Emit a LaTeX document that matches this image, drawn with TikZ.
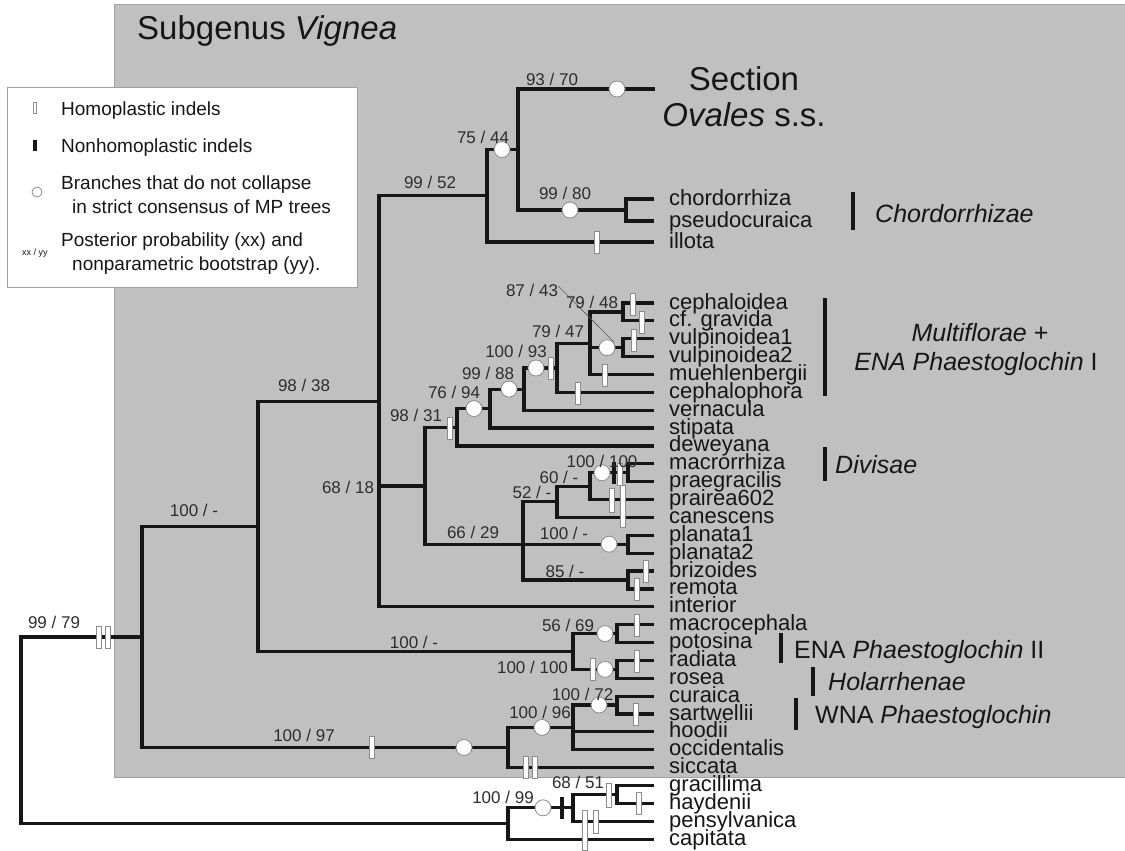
\documentclass[tikz,border=0pt]{standalone}
\usepackage{fontspec}
\setmainfont{Liberation Sans}
\definecolor{bggray}{RGB}{192,192,192}
\definecolor{bgedge}{RGB}{160,160,160}
\definecolor{ink}{RGB}{22,22,22}
\definecolor{numink}{RGB}{45,45,45}
\definecolor{markedge}{RGB}{140,140,140}
\tikzset{
  branch/.style={line width=3.2pt, draw=ink},
  leaf/.style={anchor=base west, inner sep=0pt, font=\fontsize{22}{22}\selectfont, text=ink},
  supp/.style={anchor=base, inner sep=0pt, font=\fontsize{17}{17}\selectfont, text=numink},
  homo/.style={rectangle, draw=markedge, fill=white, line width=0.8pt, minimum width=5pt, minimum height=22pt, inner sep=0pt},
  nonhomo/.style={rectangle, fill=ink, minimum width=4pt, minimum height=22pt, inner sep=0pt},
  mpc/.style={circle, draw=markedge, fill=white, line width=0.8pt, minimum size=16pt, inner sep=0pt},
  cladebar/.style={line width=4pt, draw=ink},
  cladelab/.style={anchor=base west, inner sep=0pt, font=\fontsize{25}{25}\selectfont, text=ink},
  legtext/.style={anchor=base west, inner sep=0pt, font=\fontsize{19}{19}\selectfont, text=ink},
  bigtext/.style={inner sep=0pt, font=\fontsize{33}{33}\selectfont, text=ink},
}
\begin{document}
\begin{tikzpicture}[x=1pt,y=-1pt]
\useasboundingbox (0,0) rectangle (1125,851);
% background panel
\fill[bggray] (114,5) rectangle (1125,777);
\draw[bgedge, line width=1pt] (114,5) rectangle (1125,777);

% internal nodes
\coordinate (R) at (21,730);
\coordinate (V) at (142,637);
\coordinate (A) at (258,526.4);
\coordinate (C) at (379,401.3);
\coordinate (D) at (487,195.75);
\coordinate (E) at (518,149.5);
\coordinate (Ch) at (626,210);
\coordinate (F) at (425,486);
\coordinate (G1) at (457,427.3);
\coordinate (H) at (490,408.6);
\coordinate (I) at (524,389.1);
\coordinate (J) at (557,368);
\coordinate (K) at (590,343.5);
\coordinate (L) at (623,312);
\coordinate (M) at (623,347.7);
\coordinate (G2) at (523,544.2);
\coordinate (P) at (557,501.8);
\coordinate (Q) at (590,486.2);
\coordinate (S) at (628,472.8);
\coordinate (T) at (628,544.2);
\coordinate (U) at (628,580);
\coordinate (W) at (573,651.5);
\coordinate (X) at (617,633.6);
\coordinate (Y) at (617,669.4);
\coordinate (B) at (508,747.5);
\coordinate (Z) at (573,727.4);
\coordinate (Z2) at (617,705);
\coordinate (O) at (508,823.5);
\coordinate (O2) at (573,807.8);
\coordinate (O3) at (617,794.5);

% tips
\coordinate (tOv) at (655,89);
\coordinate (tc1) at (654,199);
\coordinate (tc2) at (654,221);
\coordinate (till) at (654,242);
\node[leaf] (lc1) at (669,205) {chordorrhiza};
\node[leaf] (lc2) at (669,227) {pseudocuraica};
\node[leaf] (lill) at (669,248) {illota};
\foreach \i/\nm in {0/cephaloidea,1/cf. gravida,2/vulpinoidea1,3/vulpinoidea2,4/muehlenbergii,5/cephalophora,6/vernacula,7/stipata,8/deweyana,9/macrorrhiza,10/praegracilis,11/prairea602,12/canescens,13/planata1,14/planata2,15/brizoides,16/remota,17/interior,18/macrocephala,19/potosina,20/radiata,21/rosea,22/curaica,23/sartwellii,24/hoodii,25/occidentalis,26/siccata,27/gracillima,28/haydenii,29/pensylvanica,30/capitata}{
  \coordinate (t\i) at (654,{303+17.87*\i});
  \node[leaf] (l\i) at (669,{309+17.87*\i}) {\nm};
}

% branches
\draw[branch] (R) |- (V);  \draw[branch] (R) |- (O);
\draw[branch] (V) |- (A);  \draw[branch] (V) |- (B);
\draw[branch] (A) |- (C);  \draw[branch] (A) |- (W);
\draw[branch] (C) |- (D);  \draw[branch] (C) |- (F);  \draw[branch] (C) |- (t17);
\draw[branch] (D) |- (E);  \draw[branch] (D) |- (till);
\draw[branch] (E) |- (tOv); \draw[branch] (E) |- (Ch);
\draw[branch] (Ch) |- (tc1); \draw[branch] (Ch) |- (tc2);
\draw[branch] (F) |- (G1); \draw[branch] (F) |- (G2);
\draw[branch] (G1) |- (H); \draw[branch] (G1) |- (t8);
\draw[branch] (H) |- (I);  \draw[branch] (H) |- (t7);
\draw[branch] (I) |- (J);  \draw[branch] (I) |- (t6);
\draw[branch] (J) |- (K);  \draw[branch] (J) |- (t5);
\draw[branch] (K) |- (L);  \draw[branch] (K) |- (M);  \draw[branch] (K) |- (t4);
\draw[branch] (L) |- (t0); \draw[branch] (L) |- (t1);
\draw[branch] (M) |- (t2); \draw[branch] (M) |- (t3);
\draw[branch] (G2) |- (P); \draw[branch] (G2) |- (T); \draw[branch] (G2) |- (U);
\draw[branch] (P) |- (Q);  \draw[branch] (P) |- (t12);
\draw[branch] (Q) |- (S);  \draw[branch] (Q) |- (t11);
\draw[branch] (S) |- (t9); \draw[branch] (S) |- (t10);
\draw[branch] (T) |- (t13); \draw[branch] (T) |- (t14);
\draw[branch] (U) |- (t15); \draw[branch] (U) |- (t16);
\draw[branch] (W) |- (X);  \draw[branch] (W) |- (Y);
\draw[branch] (X) |- (t18); \draw[branch] (X) |- (t19);
\draw[branch] (Y) |- (t20); \draw[branch] (Y) |- (t21);
\draw[branch] (B) |- (Z);  \draw[branch] (B) |- (t26);
\draw[branch] (Z) |- (Z2); \draw[branch] (Z) |- (t24); \draw[branch] (Z) |- (t25);
\draw[branch] (Z2) |- (t22); \draw[branch] (Z2) |- (t23);
\draw[branch] (O) |- (O2); \draw[branch] (O) |- (t30);
\draw[branch] (O2) |- (O3); \draw[branch] (O2) |- (t29);
\draw[branch] (O3) |- (t27); \draw[branch] (O3) |- (t28);

% leader line for 87/43
\node[supp] (s8743) at (532,296) {87 / 43};
\coordinate (lead) at (614,342);
\draw[draw=gray!70!black, line width=0.6pt] (s8743.east) ++(0,-4) -- (lead);

% homoplastic indels
\node[homo] (h1) at (99,637) {};
\node[homo] (h2) at (108,637) {};
\node[homo] (h3) at (372,747.5) {};
\node[homo] (h4) at (597,242) {};
\node[homo] (h5) at (633,304) {};
\node[homo] (h6) at (642,322) {};
\node[homo] (h7) at (634,340) {};
\node[homo] (h8) at (605,375) {};
\node[homo] (h9) at (578,393) {};
\node[homo] (h10) at (551,368) {};
\node[homo] (h11) at (450,428) {};
\node[nonhomo] (n1) at (614,473) {};
\node[homo] (h12) at (620,474) {};
\node[homo, minimum height=24pt] (h13) at (612,500) {};
\node[homo, minimum height=42pt] (h14) at (623,506) {};
\node[homo] (h15) at (646,571) {};
\node[homo] (h16) at (637,589) {};
\node[homo] (h17) at (637,625) {};
\node[homo] (h18) at (637,661) {};
\node[homo] (h19) at (593,669) {};
\node[homo] (h20) at (636,714) {};
\node[homo] (h21) at (526,767.6) {};
\node[homo] (h22) at (535,767.6) {};
\node[homo, minimum height=24pt] (h23) at (609,795) {};
\node[homo] (h24) at (639,803.5) {};
\node[homo, minimum height=40pt] (h25) at (585,830) {};
\node[homo, minimum height=23pt] (h26) at (596,821.5) {};
\node[nonhomo] (n2) at (562,807.8) {};

% MP circles
\node[mpc] (c1) at (617,89) {};
\node[mpc] (c2) at (502,149.5) {};
\node[mpc] (c3) at (570,210) {};
\node[mpc] (c4) at (607,347.7) {};
\node[mpc] (c5) at (536,368) {};
\node[mpc] (c6) at (509,389.1) {};
\node[mpc] (c7) at (474,408.6) {};
\node[mpc] (c8) at (602,472.8) {};
\node[mpc] (c9) at (609,544.2) {};
\node[mpc] (c10) at (605,633.6) {};
\node[mpc] (c11) at (605,669.4) {};
\node[mpc] (c12) at (599,705) {};
\node[mpc] (c13) at (542,727.4) {};
\node[mpc] (c14) at (464,747.5) {};
\node[mpc] (c15) at (543,807.8) {};

% support values
\node[supp] (s1) at (552,85) {93 / 70};
\node[supp] (s2) at (483,143) {75 / 44};
\node[supp] (s3) at (430,188) {99 / 52};
\node[supp] (s4) at (565,199) {99 / 80};
\node[supp] (s5) at (592,308) {79 / 48};
\node[supp] (s6) at (558,337) {79 / 47};
\node[supp] (s7) at (516,357) {100 / 93};
\node[supp] (s8) at (488,379) {99 / 88};
\node[supp] (s9) at (454,398) {76 / 94};
\node[supp] (s10) at (416,421) {98 / 31};
\node[supp] (s11) at (602,467) {100 / 100};
\node[supp] (s12) at (559,483) {60 / -};
\node[supp] (s13) at (532,498) {52 / -};
\node[supp] (s14) at (473,538) {66 / 29};
\node[supp] (s15) at (564,539) {100 / -};
\node[supp] (s16) at (565,577) {85 / -};
\node[supp] (s17) at (568,631) {56 / 69};
\node[supp] (s18) at (532.5,673) {100 / 100};
\node[supp] (s19) at (582.5,700) {100 / 72};
\node[supp] (s20) at (540,718) {100 / 96};
\node[supp] (s21) at (578,788) {68 / 51};
\node[supp] (s22) at (503,803) {100 / 99};
\node[supp] (s23) at (54,628) {99 / 79};
\node[supp] (s24) at (194,516) {100 / -};
\node[supp] (s25) at (304,391) {98 / 38};
\node[supp] (s26) at (348,493) {68 / 18};
\node[supp] (s27) at (414,648) {100 / -};
\node[supp] (s28) at (304,741) {100 / 97};

% titles
\node[bigtext, anchor=base west] (title) at (137,40) {Subgenus \textit{Vignea}};
\node[bigtext, anchor=base] (sec1) at (744,91) {Section};
\node[bigtext, anchor=base] (sec2) at (744,126) {\textit{Ovales} s.s.};

% clade bars and labels
\draw[cladebar] (853,192) -- (853,230);
\node[cladelab] (k1) at (875,222) {\textit{Chordorrhizae}};
\draw[cladebar] (825,298) -- (825,396);
\node[cladelab, anchor=base] (k2) at (980,341) {\textit{Multiflorae} +};
\node[cladelab, anchor=base] (k3) at (976,370) {\textit{ENA Phaestoglochin} I};
\draw[cladebar] (825,447) -- (825,481);
\node[cladelab] (k4) at (835,473) {\textit{Divisae}};
\draw[cladebar] (781,633) -- (781,663);
\node[cladelab] (k5) at (794,658) {ENA \textit{Phaestoglochin} II};
\draw[cladebar] (813,667) -- (813,696);
\node[cladelab] (k6) at (828,690) {\textit{Holarrhenae}};
\draw[cladebar] (796,698) -- (796,730);
\node[cladelab] (k7) at (815,723) {WNA \textit{Phaestoglochin}};

% legend
\node[rectangle, draw=bgedge, fill=white, line width=1pt, minimum width=350pt, minimum height=200pt, anchor=north west, inner sep=0pt] (legend) at (7,87) {};
\node[homo, minimum width=3pt, minimum height=11pt, line width=0.6pt] (lg1) at (35,108) {};
\node[legtext] (lt1) at (61,115) {Homoplastic indels};
\node[nonhomo, minimum width=3.5pt, minimum height=11pt] (lg2) at (35,145) {};
\node[legtext] (lt2) at (61,152) {Nonhomoplastic indels};
\node[mpc, minimum size=10pt] (lg3) at (37,192) {};
\node[legtext] (lt3) at (61,189) {Branches that do not collapse};
\node[legtext] (lt4) at (72,213) {in strict consensus of MP trees};
\node[inner sep=0pt, font=\fontsize{9}{9}\selectfont, text=ink] (lg4) at (35,253) {xx / yy};
\node[legtext] (lt5) at (61,246) {Posterior probability (xx) and};
\node[legtext] (lt6) at (72,270) {nonparametric bootstrap (yy).};
\end{tikzpicture}
\end{document}
